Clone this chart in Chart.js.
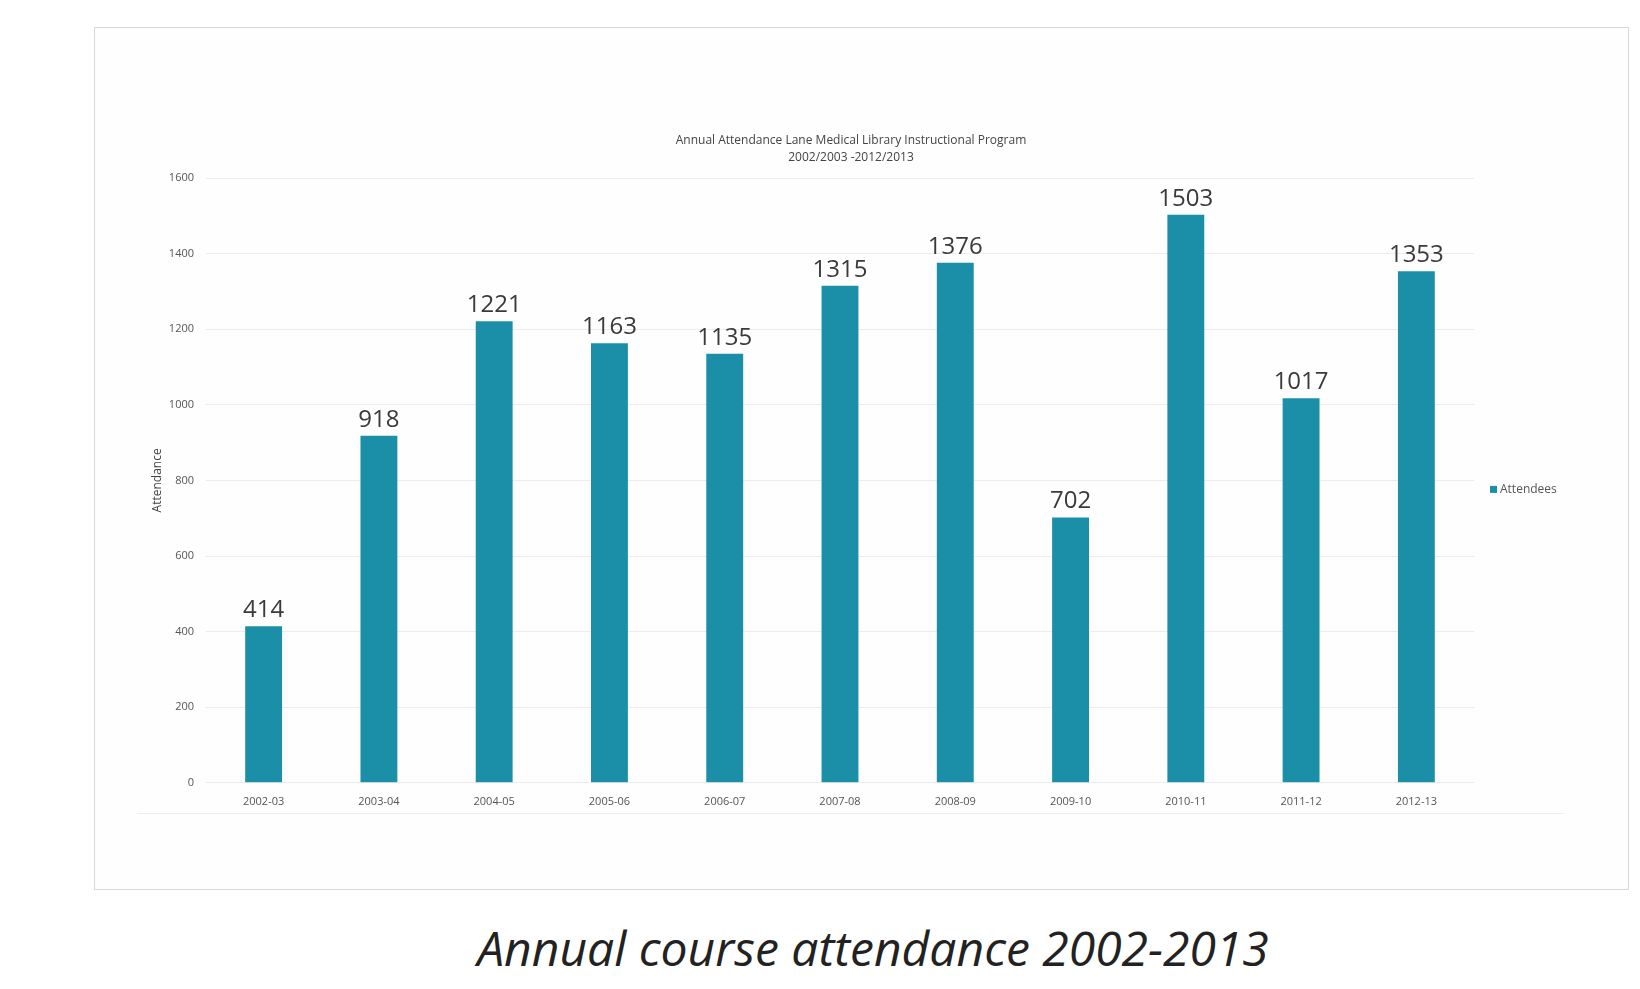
<!DOCTYPE html>
<html>
<head>
    <title>Annual course attendance</title>
    <script src="https://cdn.jsdelivr.net/npm/chart.js"></script>
    <style>
        body {
            margin: 0;
            background: #ffffff;
            width: 1640px;
            height: 989px;
            position: relative;
            overflow: hidden;
        }
        /* boxed chart panel */
        #frame {
            position: absolute;
            left: 94px;
            top: 27px;
            width: 1533px;
            height: 861px;
            border: 1px solid #d3dbd3;
            background: #fefefe;
        }
        #chartWrap {
            position: absolute;
            left: 0;
            top: 0;
            width: 1533px;
            height: 861px;
        }
        /* thin rule under the category labels */
        #baseRule {
            position: absolute;
            left: 42px;
            top: 785px;
            width: 1428px;
            height: 1px;
            background: #eeeeee;
        }
        #caption {
            position: absolute;
            left: 53px;
            width: 1640px;
            top: 918px;
            text-align: center;
            font-family: "Open Sans", sans-serif;
            font-style: italic;
            font-size: 48px;
            color: #222222;
            line-height: 60px;
        }
    </style>
</head>
<body>

<div id="frame">
    <div id="chartWrap"><canvas id="myChart"></canvas></div>
    <div id="baseRule"></div>
</div>
<div id="caption">Annual course attendance 2002-2013</div>

<script>
    // Academic years and attendees per year
    const years = ['2002-03', '2003-04', '2004-05', '2005-06', '2006-07', '2007-08',
                   '2008-09', '2009-10', '2010-11', '2011-12', '2012-13'];
    const attendees = [414, 918, 1221, 1163, 1135, 1315, 1376, 702, 1503, 1017, 1353];
    const yTicks = [0, 200, 400, 600, 800, 1000, 1200, 1400, 1600];
    const titleLines = ['Annual Attendance Lane Medical Library Instructional Program',
                        '2002/2003 -2012/2013'];

    const barColor = '#1b8fa7';

    // Writes each bar's value just above it
    const valueLabels = {
        id: 'valueLabels',
        afterDatasetsDraw(chart) {
            const ctx = chart.ctx;
            const meta = chart.getDatasetMeta(0);
            ctx.save();
            ctx.font = '24px "Open Sans", sans-serif';
            ctx.fillStyle = '#3a3a3a';
            ctx.textAlign = 'center';
            ctx.textBaseline = 'alphabetic';
            meta.data.forEach(function(bar, i) {
                ctx.fillText(chart.data.datasets[0].data[i], bar.x, bar.y - 9);
            });
            ctx.restore();
        }
    };

    // Two-line heading above the plot, a touch right of the plot centre
    const headTitle = {
        id: 'headTitle',
        afterDraw(chart) {
            const ctx = chart.ctx;
            const area = chart.chartArea;
            const cx = (area.left + area.right) / 2 + 11;
            ctx.save();
            ctx.font = '12px "Open Sans", sans-serif';
            ctx.fillStyle = '#444444';
            ctx.textAlign = 'center';
            ctx.textBaseline = 'middle';
            ctx.fillText(titleLines[0], cx, area.top - 37);
            ctx.fillText(titleLines[1], cx, area.top - 20);
            ctx.restore();
        }
    };

    // Single-entry legend, sitting to the right of the plot a little below centre
    const sideLegend = {
        id: 'sideLegend',
        afterDraw(chart) {
            const ctx = chart.ctx;
            const area = chart.chartArea;
            const x = area.right + 16;
            const y = (area.top + area.bottom) / 2 + 9;
            ctx.save();
            ctx.fillStyle = barColor;
            ctx.fillRect(x, y - 3.5, 7, 7);
            ctx.font = '12px "Open Sans", sans-serif';
            ctx.fillStyle = '#555555';
            ctx.textAlign = 'left';
            ctx.textBaseline = 'middle';
            ctx.fillText(chart.data.datasets[0].label, x + 10, y);
            ctx.restore();
        }
    };

    const data = {
        labels: years,
        datasets: [{
            label: 'Attendees',
            data: attendees,
            backgroundColor: barColor,
            borderWidth: 0,
            categoryPercentage: 1.0,
            barPercentage: 0.32
        }]
    };

    const config = {
        type: 'bar',
        data: data,
        options: {
            responsive: true,
            maintainAspectRatio: false,
            animation: false,
            layout: {
                padding: { top: 150, bottom: 69, left: 50, right: 154 }
            },
            scales: {
                y: {
                    min: 0,
                    max: 1600,
                    afterBuildTicks: function(scale) {
                        scale.ticks = yTicks.map(v => ({ value: v }));
                    },
                    afterFit: function(scale) {
                        scale.width = 61;
                    },
                    border: { display: false },
                    grid: { color: '#ececec', drawTicks: false },
                    ticks: {
                        padding: 12,
                        color: '#555555',
                        font: { family: 'Open Sans', size: 11 },
                        callback: function(value) {
                            return String(value);
                        }
                    },
                    title: {
                        display: true,
                        text: 'Attendance',
                        color: '#444444',
                        font: { family: 'Open Sans', size: 12 },
                        padding: { top: 5, bottom: 0 }
                    }
                },
                x: {
                    border: { display: false },
                    grid: { display: false, drawTicks: false },
                    ticks: {
                        padding: 12,
                        color: '#555555',
                        font: { family: 'Open Sans', size: 11 }
                    }
                }
            },
            plugins: {
                title: { display: false },
                legend: { display: false },
                tooltip: { enabled: false }
            }
        },
        plugins: [valueLabels, headTitle, sideLegend]
    };

    window.onload = function() {
        const ctx = document.getElementById('myChart').getContext('2d');
        new Chart(ctx, config);
    };
</script>

</body>
</html>
